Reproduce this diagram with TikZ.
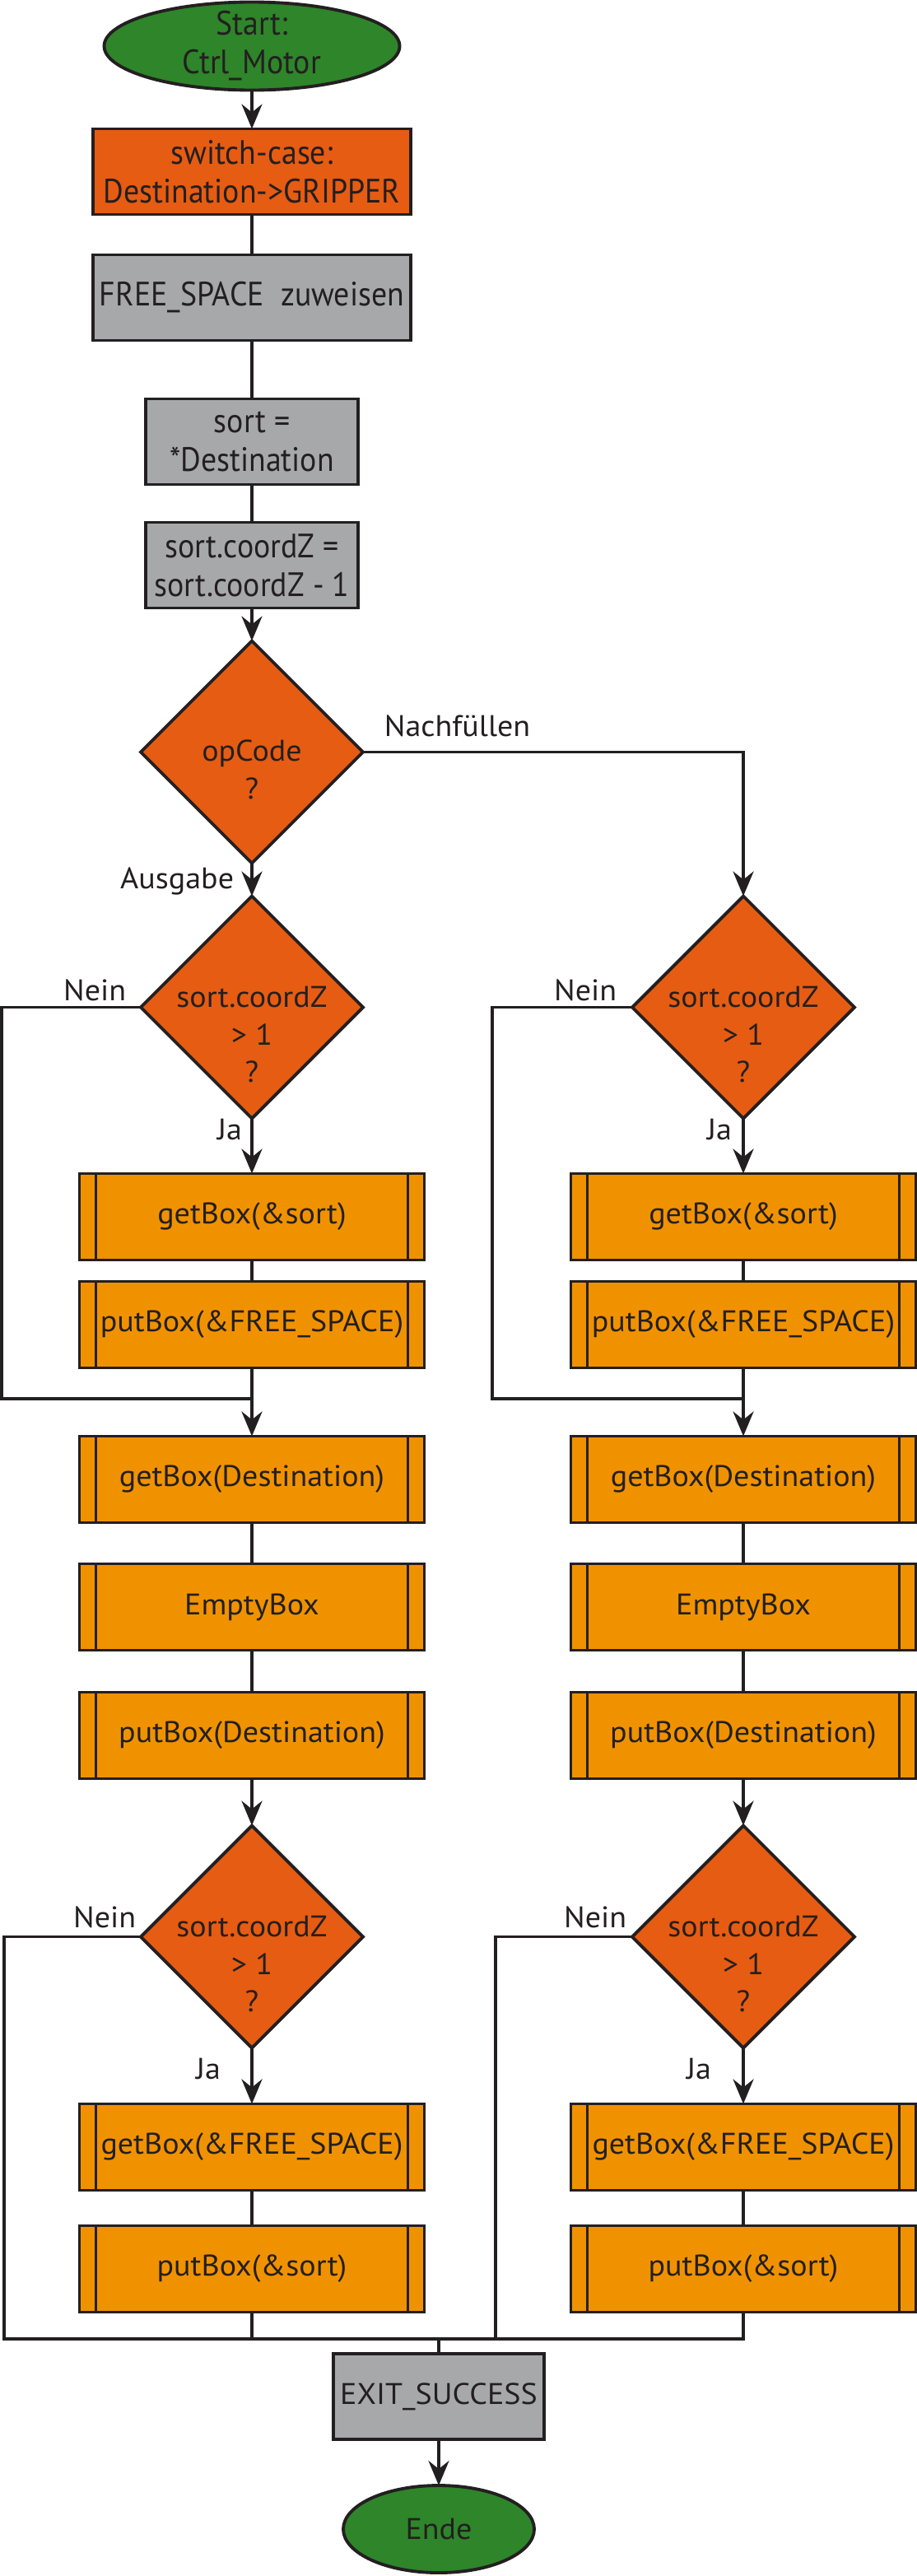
\documentclass[tikz,border=0pt]{standalone}
\usepackage{fontspec}
\usepackage{xcolor}
\usepackage{tikz}
\usetikzlibrary{arrows.meta,positioning,shapes.geometric,calc}
\setmainfont{PT Sans}[FakeStretch=0.92]
\newfontfamily\condfont[FakeStretch=1.05]{PT Sans}
\newcommand{\topfont}{\fontsize{11.7}{13.4}\selectfont}
\newcommand{\lowfont}{\condfont\fontsize{10.3}{13}\selectfont}
% text of a decision, set below the centre and kept out of the shape size
\newcommand{\dtext}[2][0cm]{\raisebox{-#1}[0pt][0pt]{\begin{tabular}[t]{@{}c@{}}#2\end{tabular}}}
\definecolor{startgreen}{RGB}{46,133,42}
\definecolor{decorange}{RGB}{230,92,18}
\definecolor{procorange}{RGB}{240,146,0}
\definecolor{stepgray}{RGB}{167,168,170}
\definecolor{linedark}{RGB}{35,31,32}

\begin{document}
\begin{tikzpicture}[
    box/.style={rectangle, draw=linedark, line width=1.1pt, minimum height=1.04cm, inner sep=0pt, outer sep=0pt, align=center, font=\topfont, text=linedark},
    startstop/.style={ellipse, draw=linedark, line width=1.1pt, fill=startgreen, inner sep=-0.2cm, outer sep=0pt, align=center, text=linedark},
    process/.style={box, fill=stepgray},
    switchbox/.style={box, fill=decorange},
    subproc/.style={box, fill=procorange, font=\lowfont, minimum width=4.19cm, minimum height=1.05cm,
        path picture={\draw[draw=linedark, line width=1.1pt]
            ([xshift=0.2cm]path picture bounding box.north west) -- ([xshift=0.2cm]path picture bounding box.south west)
            ([xshift=-0.2cm]path picture bounding box.north east) -- ([xshift=-0.2cm]path picture bounding box.south east);}},
    decision/.style={diamond, draw=linedark, line width=1.1pt, fill=decorange, minimum width=2.7cm, minimum height=2.7cm, inner sep=0pt, outer sep=0pt, font=\lowfont, text=linedark},
    conn/.style={draw=linedark, line width=1.1pt},
    arrow/.style={conn, -{Stealth[length=3mm, width=2.5mm, inset=1mm]}},
    lbl/.style={font=\lowfont, inner sep=0pt, text=linedark}
]
\useasboundingbox (0,0) rectangle (11.13,-31.29);

% Nodes
\node[startstop, font=\topfont, minimum width=3.59cm, minimum height=1.07cm] (start) at (3.06,-0.56) {Start:\\Ctrl\_Motor};
\node[switchbox, minimum width=3.86cm, below=0.47cm of start] (switch) {switch-case:\\Destination->GRIPPER};
\node[process, minimum width=3.86cm, below=0.49cm of switch] (free) {FREE\_SPACE\ \ zuweisen};
\node[process, minimum width=2.58cm, below=0.71cm of free] (assign) {sort =\\*Destination};
\node[process, minimum width=2.58cm, below=0.46cm of assign] (decz) {sort.coordZ =\\sort.coordZ - 1};
\node[decision, below=0.40cm of decz] (opcode) {\dtext[0.11cm]{opCode\\?}};

% Ausgabe
\node[decision, below=0.40cm of opcode] (ausz) {\dtext{sort.coordZ\\> 1\\?}};
\node[subproc, below=0.67cm of ausz] (ausget) {getBox(\&sort)};
\node[subproc, below=0.26cm of ausget] (ausput) {putBox(\&FREE\_SPACE)};
\node[subproc, below=0.83cm of ausput] (ausgetdest) {getBox(Destination)};
\node[subproc, below=0.50cm of ausgetdest] (ausempty) {EmptyBox};
\node[subproc, below=0.51cm of ausempty] (ausputdest) {putBox(Destination)};
\node[decision, below=0.57cm of ausputdest] (ausz2) {\dtext{sort.coordZ\\> 1\\?}};
\node[subproc, below=0.68cm of ausz2] (ausgetfree) {getBox(\&FREE\_SPACE)};
\node[subproc, below=0.43cm of ausgetfree] (ausputsort) {putBox(\&sort)};

% Nachfuellen
\node[decision, right=3.27cm of ausz] (nachz) {\dtext{sort.coordZ\\> 1\\?}};
\node[subproc, below=0.67cm of nachz] (nachget) {getBox(\&sort)};
\node[subproc, below=0.26cm of nachget] (nachput) {putBox(\&FREE\_SPACE)};
\node[subproc, below=0.83cm of nachput] (nachgetdest) {getBox(Destination)};
\node[subproc, below=0.50cm of nachgetdest] (nachempty) {EmptyBox};
\node[subproc, below=0.51cm of nachempty] (nachputdest) {putBox(Destination)};
\node[decision, below=0.57cm of nachputdest] (nachz2) {\dtext{sort.coordZ\\> 1\\?}};
\node[subproc, below=0.68cm of nachz2] (nachgetfree) {getBox(\&FREE\_SPACE)};
\node[subproc, below=0.43cm of nachgetfree] (nachputsort) {putBox(\&sort)};

\node[process, font=\lowfont, minimum width=2.56cm] (exit) at (5.33,-29.11) {EXIT\_SUCCESS};
\node[startstop, font=\lowfont, minimum width=2.32cm, minimum height=1.06cm, below=0.56cm of exit] (ende) {Ende};
\coordinate (join) at ([yshift=0.18cm]exit.north);

% Arrows
\draw[arrow] (start) -- (switch);
\draw[conn] (switch) -- (free);
\draw[conn] (free) -- (assign);
\draw[conn] (assign) -- (decz);
\draw[arrow] (decz) -- (opcode);
\draw[arrow] (opcode) -- (ausz) node[lbl, pos=0.55, anchor=east, xshift=-0.2cm] {Ausgabe};
\draw[arrow] (opcode.east) -| (nachz.north) node[lbl, pos=0, anchor=base west, xshift=0.24cm, yshift=0.19cm] {Nachfüllen};

\draw[arrow] (ausz) -- (ausget) node[lbl, pos=0.2, anchor=east, xshift=-0.1cm] {Ja};
\draw[conn] (ausget) -- (ausput);
\draw[arrow] (ausput) -- (ausgetdest);
\draw[conn] (ausz.west) -- ++(-1.69,0) node[lbl, pos=0, anchor=base east, xshift=-0.16cm, yshift=0.08cm] {Nein}
    |- ($(ausput.south)!0.45!(ausgetdest.north)$);
\draw[conn] (ausgetdest) -- (ausempty);
\draw[conn] (ausempty) -- (ausputdest);
\draw[arrow] (ausputdest) -- (ausz2);
\draw[arrow] (ausz2) -- (ausgetfree) node[lbl, pos=0.38, anchor=east, xshift=-0.36cm] {Ja};
\draw[conn] (ausgetfree) -- (ausputsort);
\draw[conn] (ausz2.west) -- ++(-1.66,0) node[lbl, pos=0, anchor=base east, xshift=-0.04cm, yshift=0.11cm] {Nein} |- (join);
\draw[conn] (ausputsort) -- (ausputsort |- join);

\draw[arrow] (nachz) -- (nachget) node[lbl, pos=0.2, anchor=east, xshift=-0.12cm] {Ja};
\draw[conn] (nachget) -- (nachput);
\draw[arrow] (nachput) -- (nachgetdest);
\draw[conn] (nachz.west) -- ++(-1.70,0) node[lbl, pos=0, anchor=base east, xshift=-0.17cm, yshift=0.08cm] {Nein}
    |- ($(nachput.south)!0.45!(nachgetdest.north)$);
\draw[conn] (nachgetdest) -- (nachempty);
\draw[conn] (nachempty) -- (nachputdest);
\draw[arrow] (nachputdest) -- (nachz2);
\draw[arrow] (nachz2) -- (nachgetfree) node[lbl, pos=0.38, anchor=east, xshift=-0.37cm] {Ja};
\draw[conn] (nachgetfree) -- (nachputsort);
\draw[conn] (nachz2.west) -- ++(-1.66,0) node[lbl, pos=0, anchor=base east, xshift=-0.05cm, yshift=0.11cm] {Nein} |- (join);
\draw[conn] (nachputsort.south) |- (join);

\draw[conn] (join) -- (exit);
\draw[arrow] (exit) -- (ende);

\end{tikzpicture}
\end{document}
